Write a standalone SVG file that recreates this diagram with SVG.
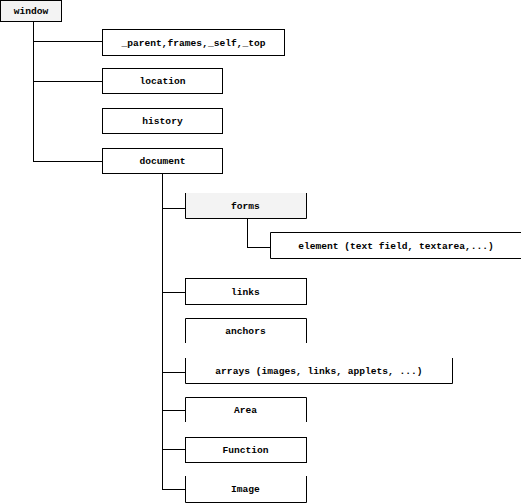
<svg xmlns="http://www.w3.org/2000/svg" width="521" height="504" viewBox="0 0 521 504">
<style>
.bg{fill:#ffffff;stroke:none}
.gray{fill:#f3f3f3;stroke:none}
.edge{fill:none;stroke:#000;stroke-width:1}
.lbl{font-family:"Liberation Mono","DejaVu Sans Mono",monospace;font-size:9.6px;font-weight:bold;fill:#000;text-anchor:middle}
.conn line{stroke:#000;stroke-width:1}
</style>
<rect class="bg" x="0" y="0" width="521" height="504"/>
<g class="conn" id="connectors">
<line x1="33.5" y1="21" x2="33.5" y2="161.5"/>
<line x1="33" y1="41.5" x2="102" y2="41.5"/>
<line x1="33" y1="81.5" x2="102" y2="81.5"/>
<line x1="33" y1="161.5" x2="102" y2="161.5"/>
<line x1="162.5" y1="173" x2="162.5" y2="489.5"/>
<line x1="162" y1="208.5" x2="185" y2="208.5"/>
<line x1="162" y1="292.5" x2="185" y2="292.5"/>
<line x1="162" y1="372.5" x2="185" y2="372.5"/>
<line x1="162" y1="410.5" x2="185" y2="410.5"/>
<line x1="162" y1="449.5" x2="185" y2="449.5"/>
<line x1="162" y1="489.5" x2="185" y2="489.5"/>
<line x1="247.5" y1="218" x2="247.5" y2="247.5"/>
<line x1="247" y1="247.5" x2="270" y2="247.5"/>
</g>
<g id="window">
<rect class="gray" x="0.5" y="0.5" width="61" height="21"/>
<rect class="edge" x="0.5" y="0.5" width="61" height="21"/>
<text class="lbl" x="31" y="14">window</text>
</g>
<g id="parent">
<rect class="edge" x="102.5" y="29.5" width="182" height="26"/>
<text class="lbl" x="193.5" y="45.5">_parent,frames,_self,_top</text>
</g>
<g id="location">
<rect class="edge" x="102.5" y="68.5" width="120" height="25"/>
<text class="lbl" x="162.5" y="84">location</text>
</g>
<g id="history">
<rect class="edge" x="102.5" y="108.5" width="120" height="25"/>
<text class="lbl" x="162.5" y="124">history</text>
</g>
<g id="document">
<rect class="edge" x="102.5" y="148.5" width="120" height="25"/>
<text class="lbl" x="162.5" y="164">document</text>
</g>
<g id="forms">
<rect class="gray" x="185" y="193" width="121" height="25"/>
<path class="edge" d="M185.5,193 V218.5 H306.5 V193"/>
<text class="lbl" x="245.5" y="209">forms</text>
</g>
<g id="element">
<path class="edge" d="M521,232.5 H270.5 V258.5 H521"/>
<text class="lbl" x="396" y="249">element (text field, textarea,...)</text>
</g>
<g id="links">
<rect class="edge" x="185.5" y="278.5" width="121" height="26"/>
<text class="lbl" x="245.5" y="294.5">links</text>
</g>
<g id="anchors">
<path class="edge" d="M185.5,343 V318.5 H306.5 V343"/>
<text class="lbl" x="245.5" y="334">anchors</text>
</g>
<g id="arrays">
<path class="edge" d="M185.5,358 V383.5 H452.5 V358"/>
<text class="lbl" x="319" y="374">arrays (images, links, applets, ...)</text>
</g>
<g id="area">
<path class="edge" d="M185.5,422 V397.5 H306.5 V422"/>
<text class="lbl" x="245.5" y="413">Area</text>
</g>
<g id="function">
<rect class="edge" x="185.5" y="437.5" width="121" height="25"/>
<text class="lbl" x="245.5" y="453">Function</text>
</g>
<g id="image">
<path class="edge" d="M185.5,476 V502.5 H306.5 V476"/>
<text class="lbl" x="245.5" y="492">Image</text>
</g>
</svg>
